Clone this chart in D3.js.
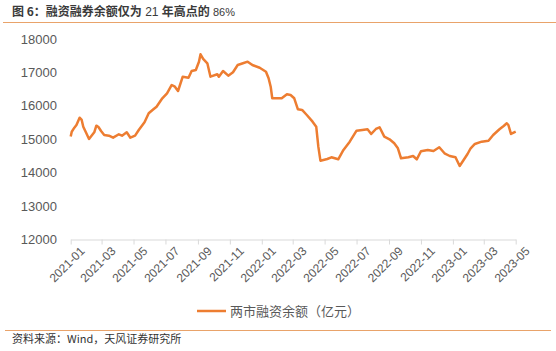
<!DOCTYPE html>
<html>
<head>
<meta charset="utf-8">
<script src="https://cdn.jsdelivr.net/npm/d3@7"></script>
<style>
  body { margin: 0; background: #fff; }
  svg { display: block; }
</style>
</head>
<body>
<div id="chart"></div>
<script>
// 两市融资余额（亿元）
const dates = [
  "2021-01-04","2021-01-06","2021-01-11","2021-01-15","2021-01-21","2021-01-25","2021-01-28",
  "2021-02-02","2021-02-08","2021-02-18","2021-02-22","2021-02-26","2021-03-03","2021-03-09",
  "2021-03-18","2021-03-26","2021-04-06","2021-04-12","2021-04-21","2021-04-28","2021-05-07",
  "2021-05-14","2021-05-25","2021-06-02","2021-06-11","2021-06-17","2021-06-28","2021-07-07",
  "2021-07-16","2021-07-22","2021-07-28","2021-08-06","2021-08-17","2021-08-23","2021-08-31",
  "2021-09-06","2021-09-09","2021-09-14","2021-09-22","2021-09-28","2021-10-11","2021-10-14",
  "2021-10-22","2021-11-01","2021-11-10","2021-11-19","2021-11-29","2021-12-08","2021-12-17",
  "2021-12-31","2022-01-12","2022-01-17","2022-01-21","2022-01-24","2022-02-07","2022-02-11",
  "2022-02-21","2022-02-28","2022-03-07","2022-03-14","2022-03-22","2022-03-31","2022-04-11",
  "2022-04-18","2022-04-22","2022-04-26","2022-05-09","2022-05-17","2022-05-30","2022-06-09",
  "2022-06-21","2022-07-04","2022-07-15","2022-07-25","2022-08-01","2022-08-10","2022-08-17",
  "2022-08-26","2022-09-05","2022-09-14","2022-09-21","2022-09-27","2022-10-11","2022-10-20",
  "2022-10-27","2022-11-04","2022-11-17","2022-11-28","2022-12-09","2022-12-19","2022-12-29",
  "2023-01-09","2023-01-17","2023-02-01","2023-02-07","2023-02-15","2023-02-28","2023-03-13",
  "2023-03-22","2023-04-03","2023-04-11","2023-04-17","2023-04-20","2023-04-25","2023-05-04"
];
const balance = [
  15080,15226,15346,15427,15645,15577,15376,
  15208,15008,15208,15406,15367,15247,15128,
  15107,15047,15149,15107,15208,15047,15107,
  15277,15508,15777,15897,15974,16226,16375,
  16624,16573,16444,16872,16842,17043,17073,
  17321,17542,17402,17273,16872,16944,16872,
  17043,16902,17004,17222,17273,17321,17222,
  17141,17022,16824,16573,16226,16226,16226,
  16345,16324,16226,15897,15876,15726,15526,
  15376,14778,14359,14410,14460,14400,14679,
  14927,15256,15277,15298,15158,15307,15358,
  15077,14999,14879,14730,14431,14460,14499,
  14400,14640,14679,14649,14760,14580,14499,
  14460,14200,14559,14730,14858,14927,14957,
  15128,15298,15397,15478,15427,15158,15226
];
const yTicks = [12000, 13000, 14000, 15000, 16000, 17000, 18000];
const xTickLabels = ["2021-01","2021-03","2021-05","2021-07","2021-09","2021-11","2022-01",
  "2022-03","2022-05","2022-07","2022-09","2022-11","2023-01","2023-03","2023-05"];
const seriesName = "两市融资余额（亿元）";

const W = 556, H = 351;
const parse = d3.timeParse("%Y-%m-%d");
const data = dates.map((d, i) => ({ date: parse(d), value: balance[i] }));

const svg = d3.select("#chart").append("svg")
  .attr("width", W).attr("height", H)
  .style("font-family", "'Liberation Sans', Arial, 'Noto Sans CJK SC', sans-serif");

// header
const title = svg.append("text").attr("x", 12).attr("y", 16)
  .attr("font-size", 12).attr("fill", "#3a3a3a");
title.append("tspan").attr("font-weight", "bold")
  .style("font-family", "'Noto Sans CJK SC', sans-serif").text("图 6：融资融券余额仅为");
title.append("tspan").text(" 21 ");
title.append("tspan").attr("font-weight", "bold")
  .style("font-family", "'Noto Sans CJK SC', sans-serif").text("年高点的");
title.append("tspan").attr("font-size", 11).text(" 86%");

svg.append("line").attr("x1", 3).attr("x2", 556).attr("y1", 22.5).attr("y2", 22.5)
  .attr("stroke", "#E9A36A").attr("stroke-width", 1);

// scales
const x = d3.scaleTime()
  .domain([parse("2021-01-04"), parse("2023-05-04")])
  .range([70.7, 515.7]);
const y = d3.scaleLinear().domain([12000, 18000]).range([239.5, 39]);

// y labels
svg.append("g").selectAll("text").data(yTicks).join("text")
  .attr("x", 57).attr("y", d => y(d)).attr("dy", "0.35em")
  .attr("text-anchor", "end").attr("font-size", 13).attr("fill", "#595959")
  .text(d => d);

// x axis
const tickDates = xTickLabels.map(s => parse(s + "-04"));
const xAxis = svg.append("g").attr("transform", `translate(0,${y(12000)})`)
  .call(d3.axisBottom(x).tickValues(tickDates).tickSize(5).tickSizeOuter(0).tickFormat((d, i) => xTickLabels[i]));
xAxis.select(".domain").attr("stroke", "#D9D9D9");
xAxis.selectAll(".tick line").attr("stroke", "#D9D9D9");
xAxis.selectAll(".tick text")
  .attr("font-size", 12).attr("fill", "#595959")
  .attr("text-anchor", "end")
  .attr("transform", "translate(5,3) rotate(-45)")
  .attr("dy", "0.35em").attr("y", 9).attr("x", 0);

// line
const line = d3.line().x(d => x(d.date)).y(d => y(d.value));
svg.append("path").datum(data)
  .attr("fill", "none").attr("stroke", "#ED7D31").attr("stroke-width", 2.5)
  .attr("stroke-linejoin", "round").attr("d", line);

// legend
svg.append("line").attr("x1", 197).attr("x2", 226).attr("y1", 311).attr("y2", 311)
  .attr("stroke", "#ED7D31").attr("stroke-width", 2.5);
svg.append("text").attr("x", 230).attr("y", 311).attr("dy", "0.35em")
  .attr("font-size", 13).attr("fill", "#595959")
  .style("font-family", "'Noto Sans CJK SC', sans-serif").text(seriesName);

// footer
svg.append("line").attr("x1", 5).attr("x2", 551).attr("y1", 330.5).attr("y2", 330.5)
  .attr("stroke", "#E9A36A").attr("stroke-width", 1);
svg.append("text").attr("x", 12).attr("y", 343).attr("font-size", 11).attr("fill", "#333")
  .style("font-family", "'Noto Sans CJK SC', sans-serif").text("资料来源：Wind，天风证券研究所");
</script>
</body>
</html>
